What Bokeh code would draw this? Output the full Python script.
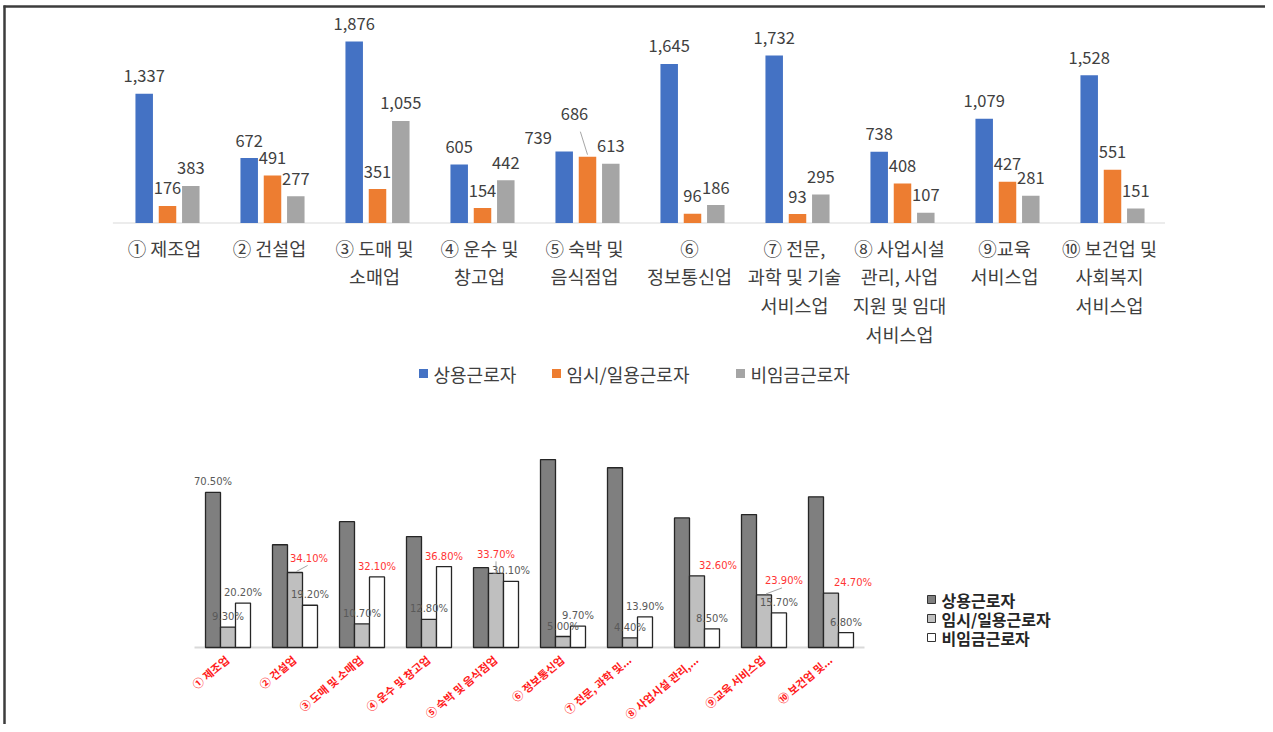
import numpy as np
from bokeh.plotting import figure
from bokeh.models import Range1d, ColumnDataSource, LabelSet
from bokeh.transform import dodge
from bokeh.core.properties import value
from bokeh.embed import file_html
from bokeh.resources import INLINE

# ---------------- data ----------------
categories_top = ["① 제조업", "② 건설업", "③ 도매 및\n소매업", "④ 운수 및\n창고업",
                  "⑤ 숙박 및\n음식점업", "⑥\n정보통신업", "⑦ 전문,\n과학 및 기술\n서비스업",
                  "⑧ 사업시설\n관리, 사업\n지원 및 임대\n서비스업", "⑨교육\n서비스업",
                  "⑩ 보건업 및\n사회복지\n서비스업"]
categories_bottom = ["① 제조업", "② 건설업", "③ 도매 및 소매업", "④ 운수 및 창고업",
                     "⑤ 숙박 및 음식점업", "⑥ 정보통신업", "⑦ 전문, 과학 및...",
                     "⑧ 사업시설 관리,...", "⑨교육 서비스업", "⑩ 보건업 및..."]
series_names = ["상용근로자", "임시/일용근로자", "비임금근로자"]

regular = [1337, 672, 1876, 605, 739, 1645, 1732, 738, 1079, 1528]
temporary = [176, 491, 351, 154, 686, 96, 93, 408, 427, 551]
nonwage = [383, 277, 1055, 442, 613, 186, 295, 107, 281, 151]

regular_pct = [70.5, 46.7, 57.2, 50.4, 36.3, 85.4, 81.7, 58.9, 60.4, 68.5]
temporary_pct = [9.3, 34.1, 10.7, 12.8, 33.7, 5.0, 4.4, 32.6, 23.9, 24.7]
nonwage_pct = [20.2, 19.2, 32.1, 36.8, 30.1, 9.7, 13.9, 8.5, 15.7, 6.8]

# which percentage labels are shown / highlighted in red (series index, category index)
pct_shown_regular = [0]
pct_red = {(1, 1), (2, 2), (2, 3), (1, 4), (1, 7), (1, 8), (1, 9)}

# ---------------- layout constants (pixels) ----------------
W, H = 1265, 724
PX0, PY0 = 0, 0
PX1, PY1 = PX0 + W, PY0 + H
TOP_X0, TOP_DX, TOP_BASE, TOP_K = 167.0, 105.0, 222.5, 0.0967
BOT_X0, BOT_DX, BOT_BASE, BOT_K = 227.5, 67.0, 647.0, 2.2
FONT = "Noto Sans CJK KR"

TOP_COLORS = ["#4472C4", "#ED7D31", "#A5A5A5"]
BOT_COLORS = ["#7f7f7f", "#bfbfbf", "#ffffff"]

p = figure(width=W, height=H, output_backend="svg", toolbar_location=None,
           x_axis_location=None, y_axis_location=None,
           x_range=Range1d(PX0, PX1), y_range=Range1d(PY1, PY0),
           min_border=0)
p.grid.visible = False
p.outline_line_color = None
p.background_fill_color = "white"
p.border_fill_color = "white"

p.extra_x_ranges = {
    "top": Range1d((PX0 - TOP_X0) / TOP_DX, (PX1 - TOP_X0) / TOP_DX),
    "bot": Range1d((PX0 - BOT_X0) / BOT_DX, (PX1 - BOT_X0) / BOT_DX),
}
p.extra_y_ranges = {
    "top": Range1d((TOP_BASE - PY1) / TOP_K, (TOP_BASE - PY0) / TOP_K),
    "bot": Range1d((BOT_BASE - PY1) / BOT_K, (BOT_BASE - PY0) / BOT_K),
}

# outer frame (top and left edges)
p.segment(x0=[3, 4], y0=[6, 5], x1=[PX1, 4], y1=[6, PY1],
          line_color="#3c3c3c", line_width=2.5)

idx = np.arange(len(regular))

# ================= TOP CHART =================
TOP_STEP = 23.3 / TOP_DX
TOP_W = 17.5 / TOP_DX
top_src = ColumnDataSource(dict(idx=idx, reg=regular, tmp=temporary, non=nonwage))
p.segment(x0=[-0.52], y0=[0], x1=[9.5], y1=[0], x_range_name="top", y_range_name="top",
          line_color="#d9d9d9", line_width=1.2)
for k, key in enumerate(["reg", "tmp", "non"]):
    p.vbar(x=dodge("idx", (k - 1) * TOP_STEP), top=key, width=TOP_W, bottom=0,
           source=top_src, x_range_name="top", y_range_name="top",
           fill_color=TOP_COLORS[k], line_color=None)

top_shift = {(0, 4): (-26, 14), (1, 4): (-13, 43)}
lx, ly, lt, ldx, ldy = [], [], [], [], []
for k, vals in enumerate([regular, temporary, nonwage]):
    for i, v in enumerate(vals):
        dx, dy = top_shift.get((k, i), (0, 17.5))
        lx.append(i + (k - 1) * TOP_STEP)
        ly.append(v)
        lt.append(f"{v:,}")
        ldx.append(dx)
        ldy.append(dy)
p.add_layout(LabelSet(x="x", y="y", text="t", x_offset="dx", y_offset="dy",
                      source=ColumnDataSource(dict(x=lx, y=ly, t=lt, dx=ldx, dy=ldy)),
                      x_range_name="top", y_range_name="top",
                      text_align="center", text_baseline="middle",
                      text_font=value(FONT), text_font_size="16.5px", text_color="#404040"))
# leader line for lifted label
for (k, i) in [(1, 4)]:
    v = [regular, temporary, nonwage][k][i]
    dx, dy = top_shift[(k, i)]
    bx = i + (k - 1) * TOP_STEP
    p.segment(x0=[bx + dx * 0.55 / TOP_DX], y0=[v + (dy - 18) / TOP_K],
              x1=[bx], y1=[v + 2 / TOP_K], x_range_name="top", y_range_name="top",
              line_color="#a6a6a6", line_width=1)

# category labels
p.text(x=idx, y=[(TOP_BASE - 234) / TOP_K] * len(idx), text=categories_top,
       x_range_name="top", y_range_name="top", x_offset=-3,
       text_align="center", text_baseline="top", text_line_height=1.115,
       text_font=value(FONT), text_font_size=value("18.5px"), text_color="#404040")

# top legend
leg_x = [423, 556, 740]
p.scatter(x=leg_x, y=[373] * 3, marker="square", size=9, fill_color=TOP_COLORS, line_color=None)
p.text(x=[x + 10 for x in leg_x], y=[373] * 3, text=series_names,
       text_align="left", text_baseline="middle",
       text_font=value(FONT), text_font_size=value("18px"), text_color="#404040")

# ================= BOTTOM CHART =================
BOT_STEP = 15.0 / BOT_DX
BOT_W = 15.0 / BOT_DX
bot_src = ColumnDataSource(dict(idx=idx, reg=regular_pct, tmp=temporary_pct, non=nonwage_pct))
p.segment(x0=[-0.5], y0=[0], x1=[9.5], y1=[0], x_range_name="bot", y_range_name="bot",
          line_color="#d9d9d9", line_width=2)
for k, key in enumerate(["reg", "tmp", "non"]):
    p.vbar(x=dodge("idx", (k - 1) * BOT_STEP), top=key, width=BOT_W, bottom=0,
           source=bot_src, x_range_name="bot", y_range_name="bot",
           fill_color=BOT_COLORS[k], line_color="#262626", line_width=1.3)

bot_shift = {(1, 1): (14, 14), (1, 4): (0, 19), (1, 7): (21, 10), (1, 8): (20, 14), (1, 9): (22, 11)}
bx_, by_, bt_, bdx_, bdy_, bc_ = [], [], [], [], [], []
for k, vals in enumerate([regular_pct, temporary_pct, nonwage_pct]):
    for i, v in enumerate(vals):
        if k == 0 and i not in pct_shown_regular:
            continue
        dx, dy = bot_shift.get((k, i), (0, 10.5))
        bx_.append(i + (k - 1) * BOT_STEP)
        by_.append(v)
        bt_.append(f"{v:.2f}%")
        bdx_.append(dx)
        bdy_.append(dy)
        bc_.append("#ff3535" if (k, i) in pct_red else "#595959")
p.add_layout(LabelSet(x="x", y="y", text="t", x_offset="dx", y_offset="dy", text_color="c",
                      source=ColumnDataSource(dict(x=bx_, y=by_, t=bt_, dx=bdx_, dy=bdy_, c=bc_)),
                      x_range_name="bot", y_range_name="bot",
                      text_align="center", text_baseline="middle",
                      text_font=value("DejaVu Sans"), text_font_size="10px"))
for (k, i) in [(1, 1), (1, 4), (1, 8)]:
    v = temporary_pct[i]
    dx, dy = bot_shift[(k, i)]
    bx = i + (k - 1) * BOT_STEP
    p.segment(x0=[bx + dx * 0.1 / BOT_DX], y0=[v + 1 / BOT_K],
              x1=[bx + dx * 0.9 / BOT_DX], y1=[v + (dy - 7) / BOT_K],
              x_range_name="bot", y_range_name="bot", line_color="#a6a6a6", line_width=1)

# rotated red category labels
p.text(x=idx - 6 / BOT_DX, y=[(BOT_BASE - 651) / BOT_K] * len(idx), text=categories_bottom,
       x_range_name="bot", y_range_name="bot", angle=np.deg2rad(40),
       text_align="right", text_baseline="top",
       text_font=value(FONT), text_font_size=value("11px"), text_font_style="bold",
       text_color="#ff1a1a")

# bottom legend
bl_y = [599, 618, 637]
p.scatter(x=[931] * 3, y=bl_y, marker="square", size=8, fill_color=BOT_COLORS,
          line_color="#333333", line_width=1)
p.text(x=[941] * 3, y=bl_y, text=series_names, text_align="left", text_baseline="middle",
       text_font=value(FONT), text_font_size=value("16px"), text_font_style="bold",
       text_color="#262626")

open("out.html", "w").write(file_html(p, INLINE))
